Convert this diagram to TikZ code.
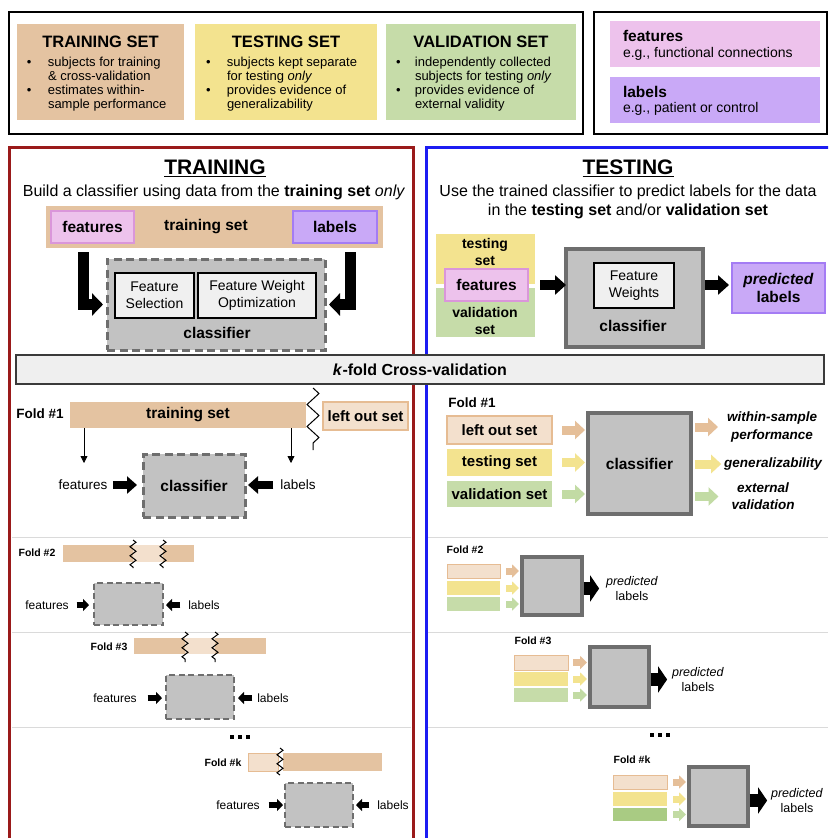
\documentclass[tikz,border=0pt]{standalone}
\usepackage{fontspec}
\setmainfont{Liberation Sans}
\usetikzlibrary{arrows.meta,decorations.pathmorphing}
\definecolor{cTan}{HTML}{E4C3A1}
\definecolor{cLtan}{HTML}{F3E0CD}
\definecolor{cTanB}{HTML}{E6BC93}
\definecolor{cTanA}{HTML}{E5BF99}
\definecolor{cYel}{HTML}{F3E38F}
\definecolor{cYelA}{HTML}{F3E38F}
\definecolor{cGrn}{HTML}{C6DCA9}
\definecolor{cGrnA}{HTML}{C2DBA4}
\definecolor{cDGrn}{HTML}{A9CB83}
\definecolor{cPnk}{HTML}{EDC2EC}
\definecolor{cPnkB}{HTML}{DA96DA}
\definecolor{cPrp}{HTML}{C9A9F7}
\definecolor{cPrpB}{HTML}{A47CF4}
\definecolor{cClf}{HTML}{C2C2C2}
\definecolor{cClfB}{HTML}{6E6E6E}
\definecolor{cInner}{HTML}{F0F0F0}
\definecolor{cRed}{HTML}{9A1A1A}
\definecolor{cBlue}{HTML}{1C1CF2}
\definecolor{cSep}{HTML}{DADADA}
\definecolor{cKf}{HTML}{EFEFEF}
\definecolor{cKfB}{HTML}{3A3A3A}
\tikzset{
  bx/.style={rectangle, inner sep=0pt, outer sep=0pt},
  fb/.style 2 args={font=\fontsize{#1}{#2}\selectfont\bfseries},
  fn/.style 2 args={font=\fontsize{#1}{#2}\selectfont},
  fbi/.style 2 args={font=\fontsize{#1}{#2}\selectfont\bfseries\itshape},
  txt/.style={inner sep=0pt, outer sep=0pt, align=center},
  dclf/.style={bx, fill=cClf, draw=cClfB, line width=3pt, dash pattern=on 8pt off 4.5pt},
  dclfs/.style={bx, fill=cClf, draw=cClfB, line width=2.5pt, dash pattern=on 6pt off 3.5pt},
  sclf/.style={bx, fill=cClf, draw=cClfB, line width=4pt},
  sclfs/.style={bx, fill=cClf, draw=cClfB, line width=3.5pt},
  inbox/.style={bx, fill=cInner, draw=black, line width=1.3pt, align=center, fn={14}{17}},
  bigarr/.style={line width=11pt, line join=miter, -{Triangle[length=11pt,width=22pt]}},
  blkm/.style={line width=10pt, -{Triangle[length=11pt,width=19pt]}},
  blk/.style={line width=8pt, -{Triangle[length=10pt,width=17pt]}},
  blks/.style={line width=6pt, -{Triangle[length=6pt,width=12pt]}},
  carr/.style={line width=9pt, draw=#1, -{Triangle[length=10pt,width=18pt]}},
  carrs/.style={line width=7pt, draw=#1, -{Triangle[length=7pt,width=13pt]}},
  outarr/.style={line width=13pt, -{Triangle[length=9pt,width=26pt]}},
  thinarr/.style={line width=0.8pt, -{Triangle[length=7pt,width=7pt]}},
  zz/.style={line width=1pt, decorate, decoration={zigzag, segment length=22pt, amplitude=6pt}},
  zzs/.style={line width=1pt, decorate, decoration={zigzag, segment length=9pt, amplitude=3pt}},
  sepl/.style={draw=cSep, line width=1pt},
}
\begin{document}
\begin{tikzpicture}[x=1pt,y=-1pt]
\useasboundingbox (0,0) rectangle (828,838);
\clip (0,0) rectangle (828,838);
\fill[white] (0,0) rectangle (828,838);

% ---------- legend ----------
\node[bx, draw=black, line width=1.3pt, minimum width=574pt, minimum height=122pt] (lg1) at (296,73) {};
\node[bx, fill=cTan, minimum width=167pt, minimum height=96pt] (trS) at (100.5,72) {};
\node[bx, fill=cYel, minimum width=182pt, minimum height=96pt] (teS) at (286,72) {};
\node[bx, fill=cGrn, minimum width=190pt, minimum height=96pt] (vaS) at (481,72) {};
\node[txt, fb={16.5}{18}] (trST) at (100.5,42) {TRAINING SET};
\node[txt, fb={16.5}{18}] (teST) at (286,42) {TESTING SET};
\node[txt, fb={16.5}{18}] (vaST) at (481,42) {VALIDATION SET};
\node[txt, fn={13}{14}, anchor=north west] (trSL) at (27,57) {\begin{tabular}{@{}p{21pt}@{}l@{}}\textbullet & subjects for training\\ & \& cross-validation\\ \textbullet & estimates within-\\ & sample performance\end{tabular}};
\node[txt, fn={13}{14}, anchor=north west] (teSL) at (206,57) {\begin{tabular}{@{}p{21pt}@{}l@{}}\textbullet & subjects kept separate\\ & for testing \textit{only}\\ \textbullet & provides evidence of\\ & generalizability\end{tabular}};
\node[txt, fn={13}{14}, anchor=north west] (vaSL) at (396,57) {\begin{tabular}{@{}p{19pt}@{}l@{}}\textbullet & independently collected\\ & subjects for testing \textit{only}\\ \textbullet & provides evidence of\\ & external validity\end{tabular}};

\node[bx, draw=black, line width=1.3pt, minimum width=233pt, minimum height=122pt] (lg2) at (710.5,73) {};
\node[bx, fill=cPnk, minimum width=210pt, minimum height=46pt] (featL) at (715,44) {};
\node[bx, fill=cPrp, minimum width=210pt, minimum height=46pt] (labL) at (715,100) {};
\node[txt, fb={15.5}{17}, anchor=west] (featLT) at (623,36) {features};
\node[txt, fn={14}{16}, anchor=west] (featLD) at (623,54) {e.g., functional connections};
\node[txt, fb={15.5}{17}, anchor=west] (labLT) at (623,92) {labels};
\node[txt, fn={14}{16}, anchor=west] (labLD) at (623,109) {e.g., patient or control};

% ---------- panels ----------
\draw[sepl] (12,537) -- (411,537);
\draw[sepl] (12,632) -- (411,632);
\draw[sepl] (12,727) -- (411,727);
\draw[sepl] (428,537) -- (828,537);
\draw[sepl] (428,632) -- (828,632);
\draw[sepl] (428,727) -- (828,727);
\node[bx, draw=cRed, line width=3pt, minimum width=404pt, minimum height=720pt] (trP) at (211,507) {};
\node[bx, draw=cBlue, line width=3pt, minimum width=410pt, minimum height=720pt] (teP) at (631,507) {};

% ---------- training top ----------
\node[txt, fb={21}{24}] (trTitle) at (215,168) {\underline{TRAINING}};
\node[txt, fn={16}{18}] (trSub) at (214,192) {Build a classifier using data from the \textbf{training set} \textit{only}};
\node[bx, fill=cTan, minimum width=337pt, minimum height=42pt] (trBar) at (214.5,227) {};
\node[bx, fill=cPnk, draw=cPnkB, line width=1.2pt, minimum width=83pt, minimum height=32pt, fb={15.5}{17}] (featA) at (92.5,227) {features};
\node[bx, fill=cPrp, draw=cPrpB, line width=1.2pt, minimum width=84pt, minimum height=32pt, fb={15.5}{17}] (labA) at (335,227) {labels};
\node[txt, fb={15.5}{17}] (trBarT) at (206,227) {training set};
\node[dclf, minimum width=218pt, minimum height=91pt] (clfA) at (216,304.5) {};
\node[inbox, minimum width=79pt, minimum height=45pt] (fsA) at (154.5,295.5) {Feature\\Selection};
\node[inbox, minimum width=118pt, minimum height=45pt] (fwoA) at (257,295.5) {Feature Weight\\Optimization};
\node[txt, fb={15.5}{17}] (clfAT) at (217,333) {classifier};
\coordinate (bL) at (83,252);
\coordinate (bR) at (350,252);
\draw[bigarr, shorten >=4pt] (bL) |- (clfA.west);
\draw[bigarr, shorten >=4pt] (bR) |- (clfA.east);

% ---------- testing top ----------
\node[txt, fb={21}{24}] (teTitle) at (628,168) {\underline{TESTING}};
\node[txt, fn={16}{19}] (teSub) at (628,202) {Use the trained classifier to predict labels for the data\\in the \textbf{testing set} and/or \textbf{validation set}};
\node[bx, fill=cYel, minimum width=99pt, minimum height=50pt] (tsB) at (485.5,259) {};
\node[bx, fill=cGrn, minimum width=99pt, minimum height=49pt] (vsB) at (485.5,312.5) {};
\node[txt, fb={14}{17}] (tsBT) at (485,252) {testing\\set};
\node[txt, fb={14}{17}] (vsBT) at (485,320.5) {validation\\set};
\node[bx, fill=cPnk, draw=cPnkB, line width=1.2pt, minimum width=83pt, minimum height=32pt, fb={15.5}{17}] (featB) at (486.5,285) {features};
\node[sclf, minimum width=137pt, minimum height=98pt] (clfB) at (634.5,298) {};
\node[inbox, minimum width=80pt, minimum height=45pt] (fwB) at (634,285.5) {Feature\\Weights};
\node[txt, fb={15.5}{17}] (clfBT) at (633,326) {classifier};
\node[bx, fill=cPrp, draw=cPrpB, line width=1.2pt, minimum width=93pt, minimum height=50pt, align=center, fb={15.5}{18}] (predB) at (778.5,288) {\textit{predicted}\\labels};
\draw[blkm, shorten <=12pt] (featB.east) -- (featB.east -| clfB.west);
\draw[blkm, shorten <=2pt, shorten >=3pt] (clfB.east |- featB.east) -- (predB.west |- featB.east);

% ---------- k-fold ----------
\node[bx, fill=cKf, draw=cKfB, line width=1.3pt, minimum width=808pt, minimum height=29pt, fb={16}{18}] (kfold) at (420,369.5) {\textit{k}-fold Cross-validation};

% ---------- fold 1 left ----------
\node[txt, fb={13.5}{15}] (f1L) at (40,414) {Fold \#1};
\node[bx, fill=cTan, minimum width=236pt, minimum height=26pt, fb={15.5}{17}] (tb1) at (188,415) {training set};
\node[bx, fill=cLtan, draw=cTanB, line width=1.2pt, minimum width=85pt, minimum height=28pt, fb={15}{17}] (lo1) at (365.5,416) {left out set};
\draw[zz] (313,388) -- (313,450);
\coordinate (ta1) at (84,463);
\coordinate (ta2) at (291,463);
\draw[thinarr] (tb1.south -| ta1) -- (ta1);
\draw[thinarr] (tb1.south -| ta2) -- (ta2);
\node[dclf, minimum width=102pt, minimum height=63pt, fb={15.5}{17}] (clf1) at (194,485.5) {classifier};
\node[txt, fn={13.5}{15}] (feat1) at (83,485) {features};
\node[txt, fn={13.5}{15}] (lab1) at (298,485) {labels};
\draw[blk, shorten <=5.5pt, shorten >=6pt] (feat1.east) -- (feat1.east -| clf1.west);
\draw[blk, shorten <=7pt, shorten >=3pt] (lab1.west) -- (lab1.west -| clf1.east);

% ---------- fold 1 right ----------
\node[txt, fb={13.5}{15}] (f1R) at (472,403) {Fold \#1};
\node[bx, fill=cLtan, draw=cTanB, line width=1.2pt, minimum width=105pt, minimum height=28pt, fb={15}{17}] (lo1R) at (499.5,430) {left out set};
\node[bx, fill=cYel, minimum width=105pt, minimum height=27pt, fb={15}{17}] (ts1R) at (499.5,462.5) {testing set};
\node[bx, fill=cGrn, minimum width=105pt, minimum height=26pt, fb={15}{17}] (vs1R) at (499.5,494) {validation set};
\node[sclf, minimum width=103pt, minimum height=101pt, fb={15.5}{17}] (clf1R) at (639.5,463.5) {classifier};
\draw[carr=cTanA, shorten <=10pt, shorten >=3pt] (lo1R.east) -- (lo1R.east -| clf1R.west);
\draw[carr=cYelA, shorten <=10pt, shorten >=3pt] (ts1R.east) -- (ts1R.east -| clf1R.west);
\draw[carr=cGrnA, shorten <=10pt, shorten >=3pt] (vs1R.east) -- (vs1R.east -| clf1R.west);
\node[txt, fbi={13.5}{18}] (wsp) at (772,427) {within-sample\\performance};
\node[txt, fbi={13.5}{16}] (gen) at (773,464) {generalizability};
\node[txt, fbi={13.5}{17}] (ext) at (763,496.5) {external\\validation};
\draw[carr=cTanA, shorten <=4pt, shorten >=9pt] (clf1R.east |- wsp.west) -- (wsp.west);
\draw[carr=cYelA, shorten <=4pt, shorten >=3pt] (clf1R.east |- gen.west) -- (gen.west);
\draw[carr=cGrnA, shorten <=4pt, shorten >=13pt] (clf1R.east |- ext.west) -- (ext.west);

% ---------- fold 2 left ----------
\node[txt, fb={10.5}{12}] (f2L) at (37,553) {Fold \#2};
\node[bx, fill=cTan, minimum width=131pt, minimum height=17pt] (tb2) at (128.5,553.5) {};
\node[bx, fill=cLtan, minimum width=30pt, minimum height=17pt] (lo2) at (148,553.5) {};
\draw[zzs] (133,540) -- (133,568);
\draw[zzs] (163,540) -- (163,568);
\node[dclfs, minimum width=69pt, minimum height=42pt] (clf2) at (128.5,604) {};
\node[txt, fn={12}{14}] (feat2) at (47,605) {features};
\node[txt, fn={12}{14}] (lab2) at (204,605) {labels};
\draw[blks, shorten <=8pt, shorten >=5pt] (feat2.east) -- (feat2.east -| clf2.west);
\draw[blks, shorten <=8pt, shorten >=3pt] (lab2.west) -- (lab2.west -| clf2.east);

% ---------- fold 3 left ----------
\node[txt, fb={10.5}{12}] (f3L) at (109,647) {Fold \#3};
\node[bx, fill=cTan, minimum width=132pt, minimum height=16pt] (tb3) at (200,646) {};
\node[bx, fill=cLtan, minimum width=30pt, minimum height=16pt] (lo3) at (200,646) {};
\draw[zzs] (185,632) -- (185,662);
\draw[zzs] (215,632) -- (215,662);
\node[dclfs, minimum width=68pt, minimum height=44pt] (clf3) at (200,697) {};
\node[txt, fn={12}{14}] (feat3) at (115,698) {features};
\node[txt, fn={12}{14}] (lab3) at (273,698) {labels};
\draw[blks, shorten <=11pt, shorten >=4pt] (feat3.east) -- (feat3.east -| clf3.west);
\draw[blks, shorten <=5pt, shorten >=4pt] (lab3.west) -- (lab3.west -| clf3.east);

% ---------- fold k left ----------
\fill (230,735) rectangle ++(4,4);
\fill (238,735) rectangle ++(4,4);
\fill (246,735) rectangle ++(4,4);
\node[txt, fb={10.5}{12}] (fkL) at (223,763) {Fold \#k};
\node[bx, fill=cLtan, draw=cTanB, line width=0.8pt, minimum width=30pt, minimum height=18pt] (lok) at (263,762) {};
\node[bx, fill=cTan, minimum width=99pt, minimum height=18pt] (tbk) at (332.5,762) {};
\draw[zzs] (280,748) -- (280,775);
\node[dclfs, minimum width=68pt, minimum height=44pt] (clfk) at (319,805) {};
\node[txt, fn={12}{14}] (featk) at (238,805) {features};
\node[txt, fn={12}{14}] (labk) at (393,805) {labels};
\draw[blks, shorten <=9pt, shorten >=2pt] (featk.east) -- (featk.east -| clfk.west);
\draw[blks, shorten <=8pt, shorten >=3pt] (labk.west) -- (labk.west -| clfk.east);

% ---------- fold 2 right ----------
\node[txt, fb={10.5}{12}] (f2R) at (465,550) {Fold \#2};
\node[bx, fill=cLtan, draw=cTanB, line width=1pt, minimum width=53pt, minimum height=14pt] (lo2R) at (473.5,571) {};
\node[bx, fill=cYel, minimum width=53pt, minimum height=14pt] (ts2R) at (473.5,588) {};
\node[bx, fill=cGrn, minimum width=53pt, minimum height=14pt] (vs2R) at (473.5,604) {};
\node[sclfs, minimum width=60pt, minimum height=58pt] (clf2R) at (552,586) {};
\draw[carrs=cTanA, shorten <=6pt, shorten >=3pt] (lo2R.east) -- (lo2R.east -| clf2R.west);
\draw[carrs=cYelA, shorten <=6pt, shorten >=3pt] (ts2R.east) -- (ts2R.east -| clf2R.west);
\draw[carrs=cGrnA, shorten <=6pt, shorten >=3pt] (vs2R.east) -- (vs2R.east -| clf2R.west);
\node[txt, fn={12.5}{15}] (pred2) at (632,588.5) {\textit{predicted}\\labels};
\draw[outarr, shorten <=1.5pt, shorten >=7pt] (clf2R.east |- pred2.west) -- (pred2.west);

% ---------- fold 3 right ----------
\node[txt, fb={10.5}{12}] (f3R) at (533,641) {Fold \#3};
\node[bx, fill=cLtan, draw=cTanB, line width=1pt, minimum width=54pt, minimum height=15pt] (lo3R) at (541,662.5) {};
\node[bx, fill=cYel, minimum width=54pt, minimum height=14pt] (ts3R) at (541,679) {};
\node[bx, fill=cGrn, minimum width=54pt, minimum height=14pt] (vs3R) at (541,695) {};
\node[sclfs, minimum width=59pt, minimum height=60pt] (clf3R) at (619.5,677) {};
\draw[carrs=cTanA, shorten <=5pt, shorten >=3pt] (lo3R.east) -- (lo3R.east -| clf3R.west);
\draw[carrs=cYelA, shorten <=5pt, shorten >=3pt] (ts3R.east) -- (ts3R.east -| clf3R.west);
\draw[carrs=cGrnA, shorten <=5pt, shorten >=3pt] (vs3R.east) -- (vs3R.east -| clf3R.west);
\node[txt, fn={12.5}{15}] (pred3) at (698,679.5) {\textit{predicted}\\labels};
\draw[outarr, shorten <=1.5pt, shorten >=5pt] (clf3R.east |- pred3.west) -- (pred3.west);

% ---------- fold k right ----------
\fill (650,733) rectangle ++(4,4);
\fill (658,733) rectangle ++(4,4);
\fill (666,733) rectangle ++(4,4);
\node[txt, fb={10.5}{12}] (fkR) at (632,760) {Fold \#k};
\node[bx, fill=cLtan, draw=cTanB, line width=1pt, minimum width=54pt, minimum height=14pt] (lokR) at (640,782) {};
\node[bx, fill=cYel, minimum width=54pt, minimum height=14pt] (tskR) at (640,799) {};
\node[bx, fill=cDGrn, minimum width=54pt, minimum height=13pt] (vskR) at (640,814.5) {};
\node[sclfs, minimum width=59pt, minimum height=59pt] (clfkR) at (718.5,796.5) {};
\draw[carrs=cTanA, shorten <=6pt, shorten >=3pt] (lokR.east) -- (lokR.east -| clfkR.west);
\draw[carrs=cYelA, shorten <=6pt, shorten >=3pt] (tskR.east) -- (tskR.east -| clfkR.west);
\draw[carrs=cGrnA, shorten <=6pt, shorten >=3pt] (vskR.east) -- (vskR.east -| clfkR.west);
\node[txt, fn={12.5}{15}] (predk) at (797,800.5) {\textit{predicted}\\labels};
\draw[outarr, shorten <=1.5pt, shorten >=4pt] (clfkR.east |- predk.west) -- (predk.west);
\end{tikzpicture}
\end{document}
